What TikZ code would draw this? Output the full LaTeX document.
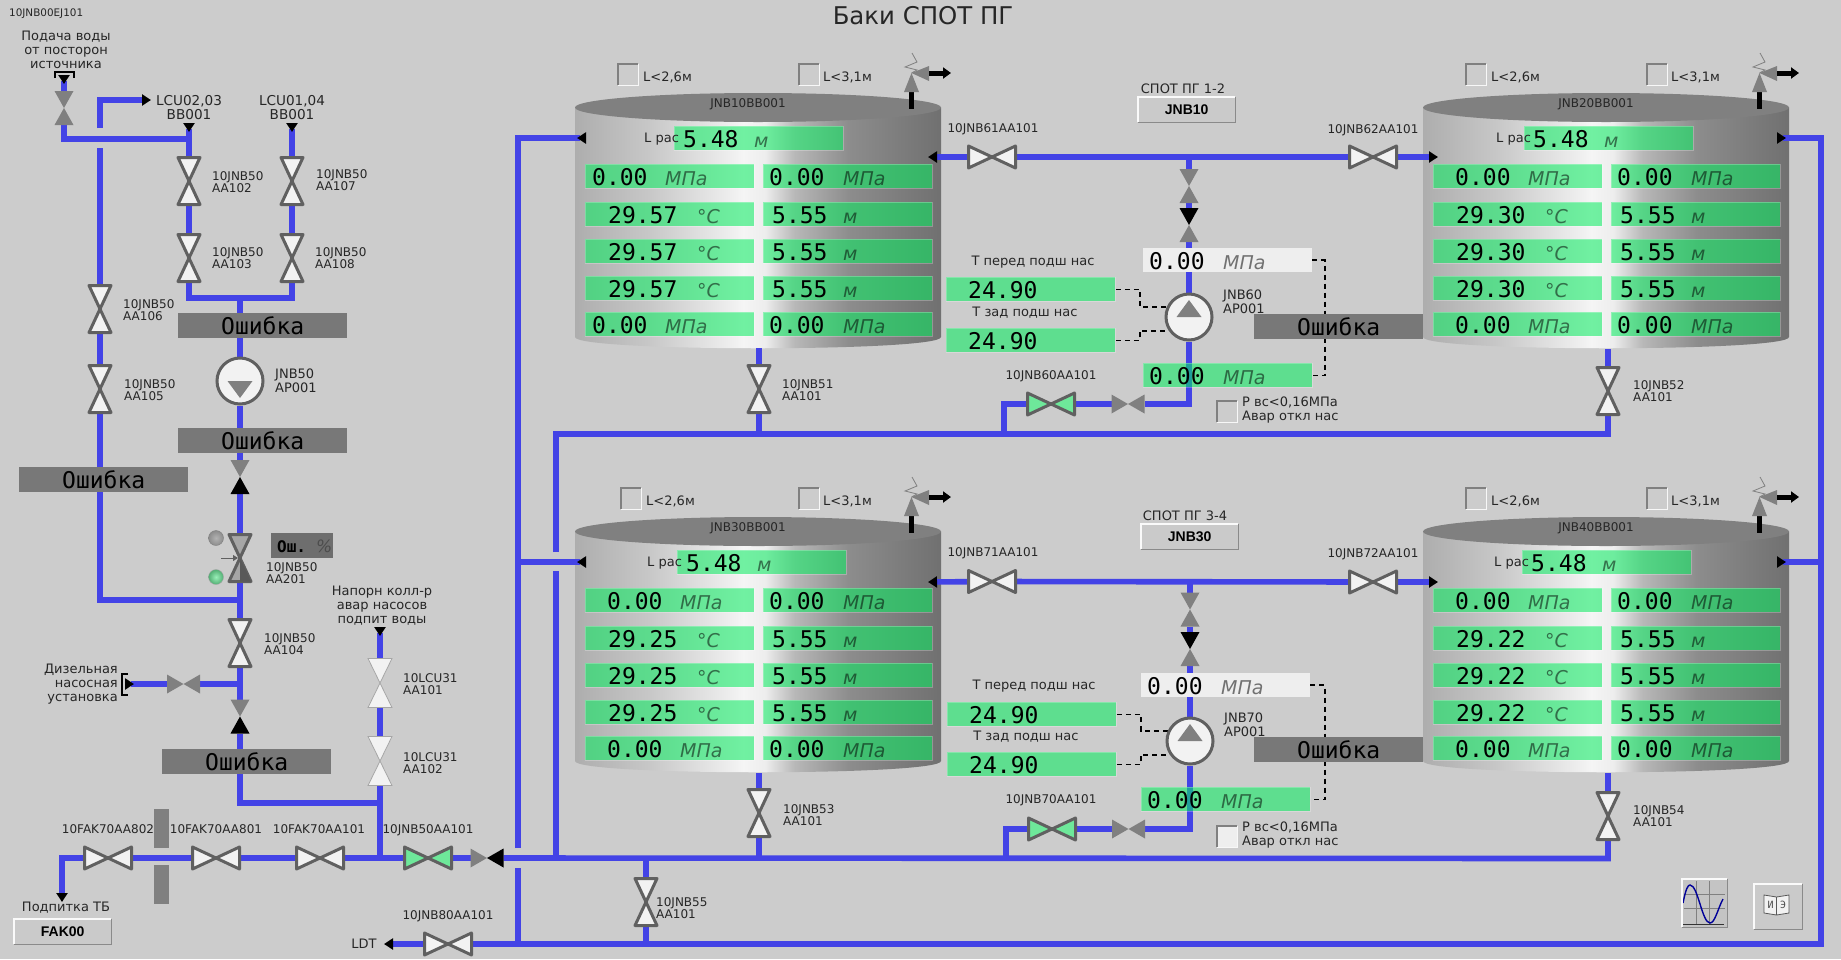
\documentclass[tikz,border=0pt]{standalone}
\usepackage{fontspec}
\setmainfont{DejaVu Sans}
\newfontfamily\monofam{DejaVu Sans Mono}
\newfontfamily\btnfam{Liberation Sans}
\usepackage{xcolor}
\usetikzlibrary{arrows.meta,shapes.geometric}
\pgfdeclarelayer{tanks}
\pgfdeclarelayer{pipes}
\pgfsetlayers{tanks,pipes,main}
\definecolor{bgcol}{HTML}{CCCCCC}
\definecolor{pipeblue}{HTML}{4343E6}
\definecolor{edgecol}{HTML}{606060}
\definecolor{bodycol}{HTML}{F2F2F2}
\definecolor{greencol}{HTML}{6EE89A}
\definecolor{gategray}{HTML}{808080}
\definecolor{errgray}{HTML}{787878}
\definecolor{readgreen}{rgb}{.02,.93,.37}
\definecolor{beveldark}{HTML}{8A8A8A}
\pgfdeclarehorizontalshading{tankshade}{100bp}{rgb(0bp)=(.68,.68,.68);rgb(25bp)=(.68,.68,.68);rgb(35bp)=(.78,.78,.78);rgb(46bp)=(.93,.93,.93);rgb(48bp)=(.96,.96,.96);rgb(51bp)=(.93,.93,.93);rgb(55bp)=(.72,.72,.72);rgb(62.5bp)=(.55,.55,.55);rgb(75bp)=(.44,.44,.44);rgb(100bp)=(.44,.44,.44)}
\tikzset{
pipe/.style={draw=pipeblue,line width=5.6pt},
pipeout/.style={pipe,-{Triangle[width=11pt,length=9pt,color=black]}},
pipein/.style={pipe,{Triangle[width=11pt,length=9pt,color=black,reversed]}-},
pipeback/.style={pipe,-{Triangle[width=11pt,length=9pt,color=black,reversed]}},
vvalve/.style={inner sep=0pt,outer sep=0pt,minimum width=22pt,minimum height=47pt},
hvalve/.style={inner sep=0pt,outer sep=0pt,minimum width=47pt,minimum height=22pt},
vgate/.style={inner sep=0pt,outer sep=0pt,minimum width=19pt,minimum height=34pt},
hgate/.style={inner sep=0pt,outer sep=0pt,minimum width=33pt,minimum height=19pt},
valveedge/.style={draw=edgecol,line width=3pt,line join=round},
pumpbody/.style={circle,draw=edgecol,fill=bodycol,line width=3pt,inner sep=0pt,minimum size=46pt},
errbox/.style={anchor=north west,fill=errgray,inner sep=0pt,minimum width=169pt,minimum height=24.5pt,font=\monofam\fontsize{23}{23}\selectfont},
greenbox/.style={anchor=north west,inner sep=0pt,minimum width=169pt,minimum height=24pt,fill=readgreen,fill opacity=.55,draw=white,draw opacity=.25,line width=.8pt},
whitebox/.style={anchor=north west,inner sep=0pt,minimum width=169pt,minimum height=24pt,fill=bodycol!90!bgcol},
numtext/.style={anchor=base west,inner sep=0pt,font=\monofam\fontsize{23}{23}\selectfont},
unittext/.style={anchor=base west,inner sep=0pt,text=black,text opacity=.52,font=\itshape\fontsize{19}{19}\selectfont},
lab/.style={anchor=west,inner sep=0pt,align=left,text=black!85,font=\fontsize{12}{12}\selectfont},
txt/.style={inner sep=0pt,align=center,text=black!85,font=\fontsize{13}{14}\selectfont},
flagtext/.style={lab,font=\fontsize{13}{14}\selectfont},
chkbox/.style={anchor=north west,inner sep=0pt,minimum width=20pt,minimum height=21pt},
btnbox/.style={anchor=north west,inner sep=0pt,fill=bgcol!103,minimum width=97pt,minimum height=25pt,font=\btnfam\bfseries\fontsize{14}{14}\selectfont},
dashline/.style={black,line width=1.6pt,dash pattern=on 5pt off 4pt},
bracketline/.style={black,line width=1.6pt}
}
\newcommand{\valveV}[3]{\node[vvalve] (#1) at (#2) {};
\filldraw[valveedge,fill=#3] (#1.north west) -- (#1.north east) -- (#1.south west) -- (#1.south east) -- cycle;}
\newcommand{\valveH}[3]{\node[hvalve] (#1) at (#2) {};
\filldraw[valveedge,fill=#3] (#1.north west) -- (#1.south east) -- (#1.north east) -- (#1.south west) -- cycle;}
\newcommand{\gateV}[4]{\node[vgate] (#1) at (#2) {};
\fill[#3] (#1.north west) -- (#1.north east) -- (#1.center) -- cycle;
\fill[#4] (#1.south west) -- (#1.south east) -- (#1.center) -- cycle;}
\newcommand{\gateH}[4]{\node[hgate] (#1) at (#2) {};
\fill[#3] (#1.north west) -- (#1.south west) -- (#1.center) -- cycle;
\fill[#4] (#1.north east) -- (#1.south east) -- (#1.center) -- cycle;}
\newcommand{\pumpat}[3]{\node[pumpbody] (#1) at (#2) {};
\fill[gategray] (#1.center) ++(-12.5,0) -- ++(25,0) -- ++(-12.5,#3) -- cycle;}
\newcommand{\readout}[7]{\node[#3] (#1) at (#2) {};
\node[numtext] (#1n) at ([xshift=#4pt,yshift=-9pt]#1.west) {#5};
\node[unittext] (#1u) at ([xshift=#6pt,yshift=-9pt]#1.west) {#7};}
\newcommand{\bevel}[3]{\draw[#2,line width=1.2pt] (#1.south west) |- (#1.north east);
\draw[#3,line width=1.2pt] (#1.south west) -| (#1.north east);}
\begin{document}
\begin{tikzpicture}[x=1pt,y=-1pt]
\useasboundingbox (0,0) rectangle (1841,959);
\begin{pgfonlayer}{tanks}
\fill[bgcol] (0,0) rectangle (1841,959);
\end{pgfonlayer}

%Title
\node[inner sep=0pt,text=black!85,font=\fontsize{24.4}{24.4}\selectfont] (title) at (923,16) {Баки СПОТ ПГ};
\node[lab,font=\fontsize{10.4}{10.4}\selectfont] (sheet) at (9,14) {10JNB00EJ101};

%Tanks
\foreach \tk/\tx/\ty/\tname/\tbx/\tlx/\tcx/\tnx/\temp in {
1/0/0/JNB10BB001/674/644/618/7/29.57,
2/848/0/JNB20BB001/676/648/618/22/29.30,
3/0/424/JNB30BB001/677/647/621/22/29.25,
4/848/424/JNB40BB001/674/646/618/22/29.22}{
\begin{scope}[shift={(\tx,\ty)}]
\begin{pgfonlayer}{tanks}
\shade[shading=tankshade] (575,107.5) -- (575,337) .. controls (575,352) and (941,352) .. (941,337) -- (941,107.5) -- cycle;
\end{pgfonlayer}
\begin{pgfonlayer}{pipes}
\node[ellipse,fill=gategray,inner sep=0pt,minimum width=366pt,minimum height=29pt] (top\tk) at (758,107.5) {};
\end{pgfonlayer}
\node[lab,anchor=center] (name\tk) at (748,104) {\tname};
\readout{lvl\tk}{\tbx,126}{greenbox}{9}{5.48}{80}{м}
\node[lab,font=\fontsize{13}{13}\selectfont] (lrs\tk) at (\tlx,139) {L рас};
\pgfmathsetmacro{\tux}{\tnx+73}
\foreach \row/\ry in {1/164,5/312}{
\readout{a\tk\row}{585,\ry}{greenbox}{\tnx}{0.00}{\tux}{МПа}
\readout{b\tk\row}{763,\ry}{greenbox}{6}{0.00}{80}{МПа}
}
\foreach \row/\ry in {2/202,3/239,4/276}{
\readout{a\tk\row}{585,\ry}{greenbox}{23}{\temp}{112}{°C}
\readout{b\tk\row}{763,\ry}{greenbox}{9}{5.55}{80}{м}
}
%Level flags
\node[chkbox] (la\tk) at (\tcx,64) {};
\bevel{la\tk}{gray}{white!85!bgcol}
\node[flagtext] (lat\tk) at (\tcx+25,77) {L<2,6м};
\node[chkbox] (lb\tk) at (799,64) {};
\bevel{lb\tk}{gray}{white!85!bgcol}
\node[flagtext] (lbt\tk) at (823,77) {L<3,1м};
%Relief valve
\draw[black,line width=5pt] (911,92) -- (911,109);
\fill[gategray] (911.5,73) -- (919,92) -- (904,92) -- cycle;
\fill[gategray] (911.5,73) -- (929,66) -- (929,81) -- cycle;
\draw[black,line width=5pt,-{Triangle[width=11pt,length=8pt]}] (929,73) -- (951,73);
\draw[gategray,line width=.8pt] (911.5,73) -- (917,70) -- (905,67) -- (917,62) -- (912,53);
\end{scope}
}

%Water source and level tanks
\node[txt] (srcl) at (66,50) {Подача воды\\от посторон\\источника};
\draw[bracketline] (55,78) |- (74,78 |- 0,72) -- (74,78);
\node[txt,font=\fontsize{13.6}{14}\selectfont] (lcual) at (189,108) {LCU02,03\\BB001};
\node[txt,font=\fontsize{13.6}{14}\selectfont] (lcubl) at (292,108) {LCU01,04\\BB001};
\gateV{g11}{64,108}{gategray}{gategray}
\valveV{v102}{189,181}{bodycol}
\valveV{v103}{189,258}{bodycol}
\valveV{v107}{292,181}{bodycol}
\valveV{v108}{292,258}{bodycol}
\valveV{v106}{100,309}{bodycol}
\valveV{v105}{100,389}{bodycol}
\node[lab] (lb102) at (212,182) {10JNB50\\AA102};
\node[lab] (lb103) at (212,258) {10JNB50\\AA103};
\node[lab] (lb107) at (316,180) {10JNB50\\AA107};
\node[lab] (lb108) at (315,258) {10JNB50\\AA108};
\node[lab] (lb106) at (123,310) {10JNB50\\AA106};
\node[lab] (lb105) at (124,390) {10JNB50\\AA105};

%Pump JNB50
\node[errbox] (err1) at (178,313) {Ошибка};
\pumpat{p50}{240,381}{17}
\node[flagtext] (lbp50) at (275,381) {JNB50\\AP001};
\node[errbox] (err2) at (178,428) {Ошибка};
\node[errbox] (err3) at (19,467) {Ошибка};
\gateV{chk1}{240,477}{gategray}{black}

%Control valve
\valveV{v201}{240,558}{gategray!70!white}
\fill[black!65] (v201.center) -- (v201.south east) -- (v201.south) -- cycle;
\draw[edgecol,line width=1pt,-{Triangle[width=6pt,length=5pt]}] (221,558) -- (238,558);
\node[circle,inner color=gray!60,outer color=gray!90,draw=gray,inner sep=0pt,minimum size=15pt] (ledg) at (216,538) {};
\node[circle,inner color=greencol!70!white,outer color=greencol!75!black,draw=gray!70,inner sep=0pt,minimum size=15pt] (leda) at (216,577) {};
\node[anchor=north west,fill=black!57,inner sep=0pt,minimum width=62pt,minimum height=25pt] (posb) at (271,533) {};
\node[anchor=base west,inner sep=0pt,font=\monofam\bfseries\fontsize{16}{16}\selectfont] (post) at (277,552) {Ош.};
\node[anchor=base west,inner sep=0pt,text=black!70,font=\itshape\fontsize{17}{17}\selectfont] (posp) at (316,552) {\%};
\node[lab] (lb201) at (266,573) {10JNB50\\AA201};
\valveV{v104}{240,643}{bodycol}
\node[lab] (lb104) at (264,644) {10JNB50\\AA104};

%Diesel unit
\gateH{g12}{183.5,684}{gategray}{gategray}
\draw[bracketline] (128,674) -| (122,695) -- (128,695);
\node[txt,anchor=east,align=right] (diesl) at (118,684.5) {Дизельная\\насосная\\установка};
\gateV{chk2}{240,716.5}{gategray}{black}
\node[errbox] (err4) at (162,749) {Ошибка};

%Header branch
\node[txt] (hdrl) at (382,606) {Напорн колл-р\\авар насосов\\подпит воды};
\node[vvalve,minimum width=24pt,minimum height=49pt] (v311) at (380,683) {};
\filldraw[draw=gray!70,line width=.8pt,fill=bodycol] (v311.north west) -- (v311.north east) -- (v311.south west) -- (v311.south east) -- cycle;
\node[vvalve,minimum width=24pt,minimum height=49pt] (v312) at (380,761) {};
\filldraw[draw=gray!70,line width=.8pt,fill=bodycol] (v312.north west) -- (v312.north east) -- (v312.south west) -- (v312.south east) -- cycle;
\node[lab] (lb311) at (403,684) {10LCU31\\AA101};
\node[lab] (lb312) at (403,763) {10LCU31\\AA102};

%Main line
\valveH{v802}{108,858}{bodycol}
\valveH{v801}{216,858}{bodycol}
\valveH{v701}{320,858}{bodycol}
\valveH{v501}{428,858}{greencol}
\gateH{chk3}{487,858}{gategray}{black}
\node[lab,anchor=center] (lb802) at (108,829) {10FAK70AA802};
\node[lab,anchor=center] (lb801) at (216,829) {10FAK70AA801};
\node[lab,anchor=center] (lb701) at (319,829) {10FAK70AA101};
\node[lab,anchor=center] (lb501) at (428,830) {10JNB50AA101};
\node[anchor=north west,fill=gategray,inner sep=0pt,minimum width=15pt,minimum height=39pt] (wall1) at (154,809) {};
\node[anchor=north west,fill=gategray,inner sep=0pt,minimum width=15pt,minimum height=39pt] (wall2) at (154,865) {};
\node[txt] (tbl) at (66,908) {Подпитка ТБ};
\node[btnbox] (fak) at (14,919) {FAK00};
\bevel{fak}{white!90!bgcol}{beveldark}

%Drain line
\valveH{v80}{448,944}{bodycol}
\valveV{v55}{646,902}{bodycol}
\node[lab,anchor=center] (lb80) at (448,916) {10JNB80AA101};
\node[lab] (lb55) at (656,908) {10JNB55\\AA101};
\node[txt] (ldtl) at (364,944) {LDT};

%Tank outlets
\valveV{v51}{759,389}{bodycol}
\valveV{v52}{1608,391}{bodycol}
\valveV{v53}{759,813}{bodycol}
\valveV{v54}{1608,816}{bodycol}
\node[lab] (lb51) at (782,390) {10JNB51\\AA101};
\node[lab] (lb52) at (1633,391) {10JNB52\\AA101};
\node[lab] (lb53) at (783,815) {10JNB53\\AA101};
\node[lab] (lb54) at (1633,816) {10JNB54\\AA101};

%Pump set 1-2
\node[txt] (setal) at (1183,89) {СПОТ ПГ 1-2};
\node[btnbox] (jnba) at (1138,97) {JNB10};
\bevel{jnba}{white!90!bgcol}{beveldark}
\valveH{v61}{992,157}{bodycol}
\valveH{v62}{1373,157}{bodycol}
\node[lab,anchor=center] (lb61) at (993,129) {10JNB61AA101};
\node[lab,anchor=center] (lb62) at (1373,130) {10JNB62AA101};
\gateV{g61}{1189,186}{gategray}{gategray}
\gateV{g62}{1189,225}{black}{gategray}
\readout{pina}{1143,248}{whitebox}{6}{0.00}{80}{МПа}
\node[txt] (tfa) at (1033,262) {Т перед подш нас};
\readout{tfra}{946,277}{greenbox}{22}{24.90}{160}{}
\node[txt] (tba) at (1025,313) {Т зад подш нас};
\readout{tbka}{946,328}{greenbox}{22}{24.90}{160}{}
\pumpat{p60}{1189,317}{-17}
\node[flagtext] (lbp60) at (1223,302) {JNB60\\AP001};
\node[errbox] (err5) at (1254,314) {Ошибка};
\readout{pouta}{1143,363}{greenbox}{6}{0.00}{80}{МПа}
\gateH{g63}{1128,404}{gategray}{gategray}
\valveH{v60}{1051,404}{greencol}
\node[lab,anchor=center] (lb60) at (1051,376) {10JNB60AA101};
\node[chkbox] (pra) at (1217,401) {};
\bevel{pra}{gray}{white!85!bgcol}
\node[flagtext] (prat) at (1242,410) {Р вс<0,16МПа\\Авар откл нас};
\coordinate (dasha) at (1325,317);

%Pump set 3-4
\node[txt] (setbl) at (1185,516) {СПОТ ПГ 3-4};
\node[btnbox] (jnbb) at (1141,524) {JNB30};
\bevel{jnbb}{white!90!bgcol}{beveldark}
\valveH{v71}{992,581.5}{bodycol}
\valveH{v72}{1373,582}{bodycol}
\node[lab,anchor=center] (lb71) at (993,553) {10JNB71AA101};
\node[lab,anchor=center] (lb72) at (1373,554) {10JNB72AA101};
\gateV{g71}{1190,609.5}{gategray}{gategray}
\gateV{g72}{1190,649}{black}{gategray}
\readout{pinb}{1141,673}{whitebox}{6}{0.00}{80}{МПа}
\node[txt] (tfb) at (1034,686) {Т перед подш нас};
\readout{tfrb}{947,702}{greenbox}{22}{24.90}{160}{}
\node[txt] (tbb) at (1026,737) {Т зад подш нас};
\readout{tbkb}{947,752}{greenbox}{22}{24.90}{160}{}
\pumpat{p70}{1190,741}{-17}
\node[flagtext] (lbp70) at (1224,725) {JNB70\\AP001};
\node[errbox] (err6) at (1254,737) {Ошибка};
\readout{poutb}{1141,787}{greenbox}{6}{0.00}{80}{МПа}
\gateH{g73}{1128.5,829}{gategray}{gategray}
\valveH{v70}{1052,829}{greencol}
\node[lab,anchor=center] (lb70) at (1051,800) {10JNB70AA101};
\node[chkbox,fill=bodycol!90!bgcol] (prb) at (1217,826) {};
\bevel{prb}{gray}{white!85!bgcol}
\node[flagtext] (prbt) at (1242,835.5) {Р вс<0,16МПа\\Авар откл нас};
\coordinate (dashb) at (1325,740);

%Trend button
\node[anchor=north west,fill=bgcol!96!black,inner sep=0pt,minimum width=45pt,minimum height=48pt] (trend) at (1682,879) {};
\draw[gray,line width=.6pt] (1696,881) -- (1696,924) (1709,881) -- (1709,924) (1684,894) -- (1725,894) (1684,908) -- (1725,908);
\draw[black!80,line width=1pt] (1683,924) -- (1724,924);
\draw[blue!60!black,line width=1.4pt] (1683,903) .. controls (1686,888) and (1688,885) .. (1690,885) .. controls (1698,885) and (1702,923) .. (1710,923) .. controls (1715,923) and (1718,908) .. (1723,899);
\bevel{trend}{white!90!bgcol}{beveldark}

%Manual button
\node[anchor=north west,fill=bgcol!103,inner sep=0pt,minimum width=48pt,minimum height=45pt] (manual) at (1754,884) {};
\filldraw[draw=black!65,fill=bodycol,line width=.8pt] (1764,895) -- (1776.5,897) -- (1789,895) -- (1789,913) -- (1776.5,915) -- (1764,913) -- cycle;
\draw[black!65,line width=.8pt] (1776.5,897) -- (1776.5,915);
\node[inner sep=0pt,text=black!70,font=\monofam\fontsize{10}{10}\selectfont] (bkl) at (1770.5,905) {И};
\node[inner sep=0pt,text=black!70,font=\monofam\fontsize{10}{10}\selectfont] (bkr) at (1783,905) {Э};
\bevel{manual}{white!90!bgcol}{beveldark}

%Named line ends
\coordinate (srca) at (64,75);
\coordinate (lcua) at (189,123);
\coordinate (lcub) at (292,123);
\coordinate (jsrc) at (189,139);
\coordinate (outa) at (151,100);
\coordinate (upa) at (100,128);
\coordinate (dna) at (100,148);
\coordinate (j50) at (240,298);
\coordinate (j201l) at (100,600);
\coordinate (j201r) at (240,600);
\coordinate (j104) at (240,684);
\coordinate (dies) at (125,684);
\coordinate (jhdr) at (380,803);
\coordinate (hdr) at (380,627);
\coordinate (jmain) at (380,858);
\coordinate (tbout) at (62,902);
\coordinate (m54) at (1608,858.5);
\coordinate (m556) at (556,858.5);
\coordinate (m646) at (646,858.5);
\coordinate (m759) at (759,858.5);
\coordinate (m1006) at (1006,858.5);
\coordinate (gap556a) at (556,571);
\coordinate (gap556b) at (556,552);
\coordinate (c434) at (556,434);
\coordinate (j434) at (1608,434);
\coordinate (j51) at (759,434);
\coordinate (j1004) at (1004,434);
\coordinate (ldt) at (384,944);
\coordinate (e518) at (518,944);
\coordinate (e646) at (646,944);
\coordinate (e1821) at (1821,944);
\coordinate (gap518a) at (518,868);
\coordinate (gap518b) at (518,848);
\coordinate (n518) at (518,138);
\coordinate (j518) at (518,562);
\coordinate (n1821) at (1821,138);
\coordinate (j1821) at (1821,562);
\coordinate (t1w) at (586,138);
\coordinate (t3w) at (586,562);
\coordinate (t2e) at (1777,138);
\coordinate (t4e) at (1777,562);
\coordinate (t1s) at (759,348);
\coordinate (t2s) at (1608,349);
\coordinate (t3s) at (759,773);
\coordinate (t4s) at (1608,773);
\coordinate (t1r) at (928,157);
\coordinate (t2l) at (1438,157);
\coordinate (t3r) at (928,582);
\coordinate (t4l) at (1438,582);
\coordinate (j60) at (1189,157);
\coordinate (j70) at (1190,582);

\begin{pgfonlayer}{pipes}
%Feed lines
\draw[pipein] (srca) -- (g11);
\draw[pipe] (g11) |- (jsrc);
\draw[pipein] (lcua) -- (v102);
\draw[pipe] (v102) -- (v103);
\draw[pipe] (v103) |- (j50);
\draw[pipein] (lcub) -- (v107);
\draw[pipe] (v107) -- (v108);
\draw[pipe] (v108) |- (j50);
\draw[pipeout] (upa) |- (outa);
\draw[pipe] (dna) -- (v106);
\draw[pipe] (v106) -- (v105);
\draw[pipe] (v105) -- (j201l) -- (j201r);
\draw[pipe] (j50) -- (p50);
\draw[pipe] (p50) -- (chk1);
\draw[pipe] (chk1) -- (v201);
\draw[pipe] (v201) -- (v104);
\draw[pipe] (v104) -- (chk2);
\draw[pipe] (j104) -- (g12);
\draw[pipeback] (g12) -- (dies);
\draw[pipe] (chk2) |- (jhdr);
\draw[pipein] (hdr) -- (v311);
\draw[pipe] (v311) -- (v312);
\draw[pipe] (v312) -- (jmain);
%Main line
\draw[pipeout] (v802) -| (tbout);
\draw[pipe] (v802) -- (v801);
\draw[pipe] (v801) -- (v701);
\draw[pipe] (v701) -- (v501);
\draw[pipe] (v501) -- (chk3);
\draw[pipe] (chk3) -- (m54) -- (v54);
\draw[pipe] (t4s) -- (v54);
\draw[pipe] (t3s) -- (v53);
\draw[pipe] (v53) -- (m759);
\draw[pipe] (m646) -- (v55);
\draw[pipe] (v55) -- (e646);
\draw[pipe] (m556) -- (gap556a);
\draw[pipe] (gap556b) -- (c434) -- (j434) -- (v52);
\draw[pipe] (t2s) -- (v52);
\draw[pipe] (t1s) -- (v51);
\draw[pipe] (v51) -- (j51);
%Drain line
\draw[pipeout] (v80) -- (ldt);
\draw[pipe] (v80) -- (e1821) -- (n1821);
\draw[pipeback] (e1821) -- (n1821) -- (t2e);
\draw[pipeback] (j1821) -- (t4e);
\draw[pipe] (e518) -- (gap518a);
\draw[pipeback] (gap518b) -- (n518) -- (t1w);
\draw[pipeback] (j518) -- (t3w);
%Pump set 1-2
\draw[pipeout] (v61) -- (t1r);
\draw[pipe] (v61) -- (v62);
\draw[pipeout] (v62) -- (t2l);
\draw[pipe] (j60) -- (g61);
\draw[pipe] (g61) -- (g62);
\draw[pipe] (g62) -- (p60);
\draw[pipe] (p60) |- (g63);
\draw[pipe] (g63) -- (v60);
\draw[pipe] (v60) -| (j1004);
\draw[dashline] (tfra.east) -- ++(24,0) |- (p60.156);
\draw[dashline] (tbka.east) -- ++(24,0) |- (p60.214);
\draw[dashline] (pina.east) -| (dasha) |- (pouta.east);
%Pump set 3-4
\draw[pipeout] (v71) -- (t3r);
\draw[pipe] (v71) -- (v72);
\draw[pipeout] (v72) -- (t4l);
\draw[pipe] (j70) -- (g71);
\draw[pipe] (g71) -- (g72);
\draw[pipe] (g72) -- (p70);
\draw[pipe] (p70) |- (g73);
\draw[pipe] (g73) -- (v70);
\draw[pipe] (v70) -| (m1006);
\draw[dashline] (tfrb.east) -- ++(24,0) |- (p70.156);
\draw[dashline] (tbkb.east) -- ++(24,0) |- (p70.214);
\draw[dashline] (pinb.east) -| (dashb) |- (poutb.east);
\end{pgfonlayer}
\end{tikzpicture}
\end{document}
